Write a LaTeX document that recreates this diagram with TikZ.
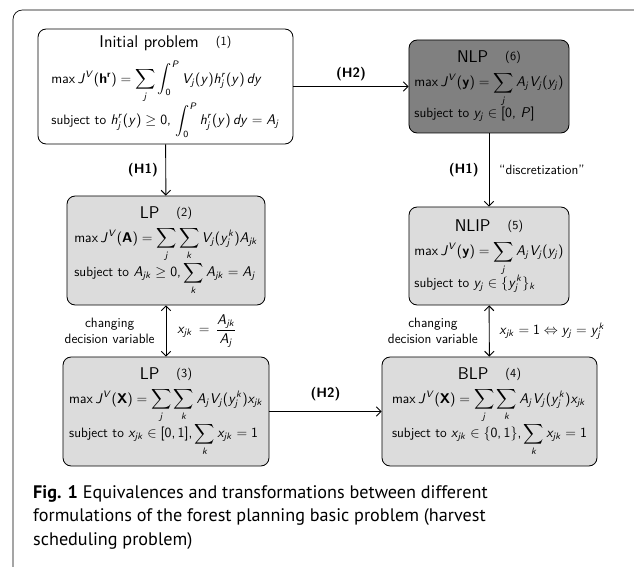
\documentclass[tikz,border=0pt]{standalone}
\usepackage{amsmath}
\usepackage[no-math]{fontspec}
\usepackage{xcolor}
\usepackage{tikz}
\usetikzlibrary{arrows.meta}
\newfontfamily\capfont{PT Sans}
% sans serif math letters and operators
\SetSymbolFont{letters}{normal}{OT1}{cmss}{m}{sl}
\SetSymbolFont{operators}{normal}{OT1}{cmss}{m}{n}
\SetMathAlphabet{\mathbf}{normal}{OT1}{cmss}{bx}{n}
\AtBeginDocument{\mathcode`\,="602C}
\definecolor{boxlight}{RGB}{220,220,220}
\definecolor{boxdark}{RGB}{128,128,128}
\newcommand{\probtitle}[2]{\mbox{\fontsize{14.5}{16}\selectfont #1\quad\fontsize{10.5}{12}\selectfont\raisebox{1.5pt}{(#2)}}}

\begin{document}
\begin{tikzpicture}[x=0.03cm,y=-0.03cm,
  font=\sffamily\fontsize{11.6}{13.5}\selectfont,
  >={Straight Barb[length=4pt,width=8pt]},
  probbox/.style={draw,rounded corners=7pt,line width=0.7pt,align=center,inner sep=1pt},
  link/.style={->,line width=0.8pt},
  hyp/.style={font=\sffamily\bfseries\fontsize{11.6}{13.5}\selectfont}]
\useasboundingbox (0,0) rectangle (634,567);
\draw [line width=0.6pt,rounded corners=8pt] (640,10) -- (13,10) -- (13,575);
% problems
\node [probbox,fill=white,minimum width=7.65cm,minimum height=3.45cm] (initprob) at (165.5,86.5)
  {\probtitle{Initial problem}{1}\\[8pt]
   $\begin{array}{@{}l@{}}
   \displaystyle\max J^V(\mathbf{h^r}) = \sum_j \int_0^P V_j(y)h_j^r(y)\,dy\\[11pt]
   \displaystyle\text{subject to } h_j^r(y)\geq 0,\, \int_0^P h_j^r(y)\,dy = A_j
   \end{array}$};
\node [probbox,fill=boxdark,minimum width=4.8cm,minimum height=2.79cm] (nlp) at (489,86.5)
  {\probtitle{NLP}{6}\\[6pt]
   $\begin{array}{@{}l@{}}
   \displaystyle\max J^V(\mathbf{y}) = \sum_j A_jV_j(y_j)\\[2pt]
   \text{subject to } y_j \in [0,\,P]
   \end{array}$};
\node [probbox,fill=boxlight,minimum width=5.94cm,minimum height=3.27cm] (lpa) at (166,250.5)
  {\probtitle{LP}{2}\\[6pt]
   $\begin{array}{@{}l@{}}
   \displaystyle\max J^V(\mathbf{A}) = \sum_j\sum_k V_j(y_j^k)A_{jk}\\[6pt]
   \displaystyle\text{subject to } A_{jk}\geq 0, \sum_k A_{jk} = A_j
   \end{array}$};
\node [probbox,fill=boxlight,minimum width=4.8cm,minimum height=2.94cm] (nlip) at (489,256)
  {\probtitle{NLIP}{5}\\[6pt]
   $\begin{array}{@{}l@{}}
   \displaystyle\max J^V(\mathbf{y}) = \sum_j A_jV_j(y_j)\\[6pt]
   \text{subject to } y_j \in \{y_j^k\}_k
   \end{array}$};
\node [probbox,fill=boxlight,minimum width=6.18cm,minimum height=3.27cm] (lpb) at (166,411.5)
  {\probtitle{LP}{3}\\[6pt]
   $\begin{array}{@{}l@{}}
   \displaystyle\max J^V(\mathbf{X}) = \sum_j\sum_k A_jV_j(y_j^k)x_{jk}\\[1pt]
   \displaystyle\text{subject to } x_{jk}\in[0,1], \sum_k x_{jk} = 1
   \end{array}$};
\node [probbox,fill=boxlight,minimum width=6.45cm,minimum height=3.27cm] (blp) at (489.5,411.5)
  {\probtitle{BLP}{4}\\[6pt]
   $\begin{array}{@{}l@{}}
   \displaystyle\max J^V(\mathbf{X}) = \sum_j\sum_k A_jV_j(y_j^k)x_{jk}\\[1pt]
   \displaystyle\text{subject to } x_{jk}\in\{0,1\}, \sum_k x_{jk} = 1
   \end{array}$};
% transformations
\draw [link] (initprob) -- node [hyp,left=3pt] {(H1)} (lpa);
\draw [link] (initprob) -- node [hyp,above=1pt] {(H2)} (nlp);
\draw [link] (nlp) -- node [hyp,left=5pt] {(H1)} node [right=5pt] {``discretization''} (nlip);
\draw [link,<->] (lpa) -- node [left=6pt,align=center] {changing\\decision variable}
  node [right=6pt] {$x_{jk}\,=\,\dfrac{A_{jk}}{A_j}$} (lpb);
\draw [link,<->] (nlip) -- node [left=6pt,align=center] {changing\\decision variable}
  node [right=5pt] {$x_{jk}=1 \Leftrightarrow y_j = y_j^k$} (blp);
\draw [link] (lpb) -- node [hyp,above=5pt] {(H2)} (blp);
% caption
\node [anchor=north west,align=left,inner sep=0pt,font={\capfont\fontsize{15.5}{20.2}\selectfont}] (caption) at (33,485)
  {\textbf{Fig. 1} Equivalences and transformations between different\\
   formulations of the forest planning basic problem (harvest\\
   scheduling problem)};
\end{tikzpicture}
\end{document}
